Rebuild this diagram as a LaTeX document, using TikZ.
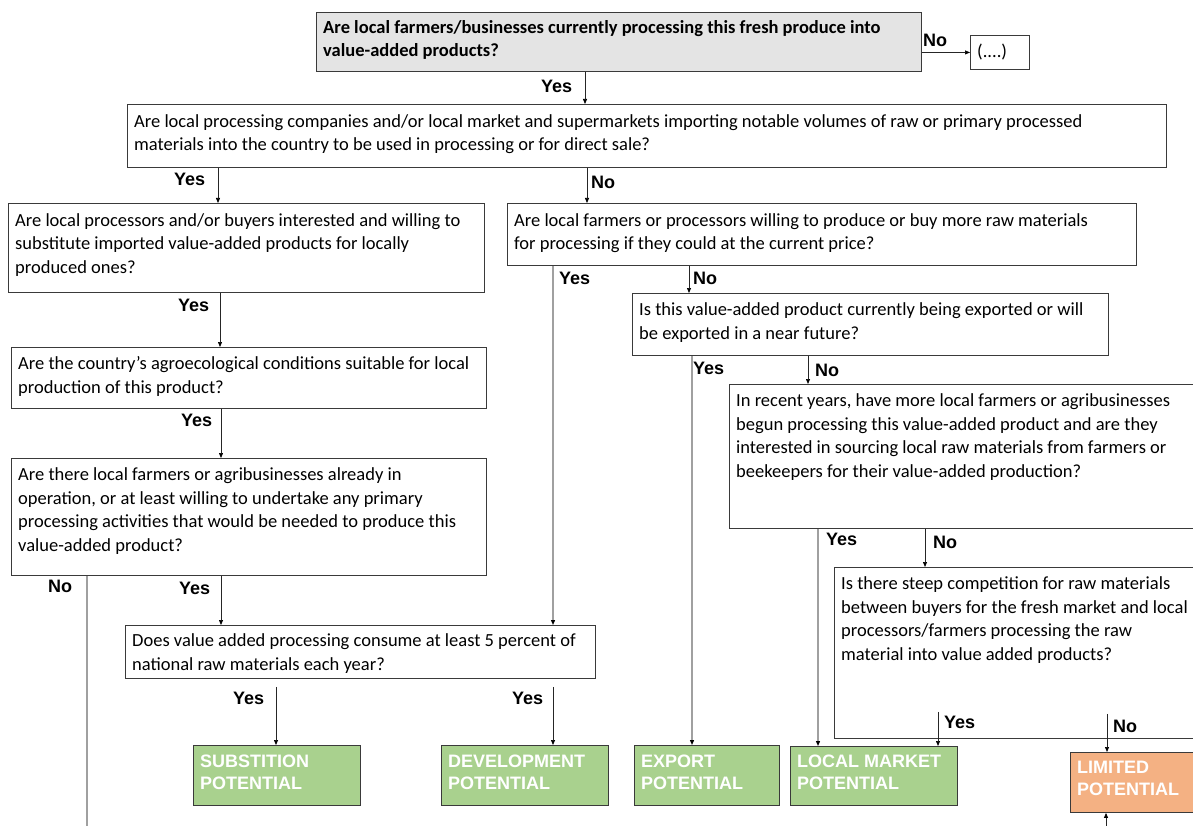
\documentclass[tikz,border=0pt]{standalone}
\usepackage{fontspec}
\setmainfont{Carlito}
\newfontfamily\lblfam{Liberation Sans}
\usetikzlibrary{arrows.meta,calc}

\definecolor{boxline}{HTML}{3A3A3A}
\definecolor{topfill}{HTML}{E4E4E4}
\definecolor{resgreen}{HTML}{A9D18E}
\definecolor{resorange}{HTML}{F4B183}
\definecolor{lightlink}{HTML}{A0A0A0}

\newcommand\qtxtfont{\fontsize{18.5pt}{23.6pt}\selectfont}
\newcommand\restxtfont{\lblfam\bfseries\fontsize{18pt}{22pt}\selectfont}
\newcommand\lbltxtfont{\lblfam\bfseries\fontsize{18pt}{20pt}\selectfont}

% #1 name, #2 x, #3 y (top left), #4 width, #5 height,
% #6 box style, #7 text style, #8 first-line strut height, #9 text
\newcommand\flowbox[9]{%
  \node[qbox,#6,minimum width=#4pt,minimum height=#5pt] (#1) at (#2,#3) {};
  \node[#7] (#1t) at (#2+7,#3+2) {\rule{0pt}{#8pt}#9};
}

\begin{document}
\begin{tikzpicture}[x=1pt,y=-1pt,
  qbox/.style={draw=boxline, line width=0.9pt, fill=white, inner sep=0pt, anchor=north west},
  qtext/.style={anchor=north west, inner sep=0pt, align=left, font=\qtxtfont, text=black},
  rtext/.style={anchor=north west, inner sep=0pt, align=left, font=\restxtfont, text=white},
  resbox/.style={fill=resgreen, draw=boxline},
  lbl/.style={anchor=base west, inner sep=0pt, font=\lbltxtfont},
  arr/.style={-{Triangle[length=5pt,width=4pt,color=black]}, line width=0.7pt, draw=black!85},
  garr/.style={arr, draw=lightlink, line width=1.3pt},
]
\useasboundingbox (0,0) rectangle (1193,826);
\clip (0,0) rectangle (1193,826);

% question boxes
\flowbox{qa}{316}{12}{605}{59}{fill=topfill}{qtext,font=\qtxtfont\bfseries}{19}%
  {Are local farmers/businesses currently processing this fresh produce into\\value-added products?}
\flowbox{dots}{970}{35}{59}{34}{}{qtext}{20.5}{(....)}
\flowbox{qb}{127}{104}{1039}{63}{}{qtext}{21}%
  {Are local processing companies and/or local market and supermarkets importing notable volumes of raw or primary processed\\materials into the country to be used in processing or for direct sale?}
\flowbox{qc}{8}{203}{476}{89}{}{qtext}{21}%
  {Are local processors and/or buyers interested and willing to\\substitute imported value-added products for locally\\produced ones?}
\flowbox{qd}{507}{203}{629}{62}{}{qtext}{21}%
  {Are local farmers or processors willing to produce or buy more raw materials\\for processing if they could at the current price?}
\flowbox{qe}{11}{347}{475}{61}{}{qtext}{20.5}%
  {Are the country’s agroecological conditions suitable for local\\production of this product?}
\flowbox{qf}{11}{458}{475}{117}{}{qtext}{20.5}%
  {Are there local farmers or agribusinesses already in\\operation, or at least willing to undertake any primary\\processing activities that would be needed to produce this\\value-added product?}
\flowbox{qg}{125}{625}{470}{53}{}{qtext}{19.5}%
  {Does value added processing consume at least 5 percent of\\national raw materials each year?}
\flowbox{qh}{632}{293}{476}{62}{}{qtext}{20.5}%
  {Is this value-added product currently being exported or will\\be exported in a near future?}
\flowbox{qi}{729}{384}{480}{144}{}{qtext}{20.5}%
  {In recent years, have more local farmers or agribusinesses\\begun processing this value-added product and are they\\interested in sourcing local raw materials from farmers or\\beekeepers for their value-added production?}
\flowbox{qj}{834}{567}{370}{171}{}{qtext}{20.5}%
  {Is there steep competition for raw materials\\between buyers for the fresh market and local\\processors/farmers processing the raw\\material into value added products?}

% outcome boxes
\flowbox{rsub}{193}{745}{167}{60}{resbox}{rtext}{20.5}{SUBSTITION\\POTENTIAL}
\flowbox{rdev}{441}{745}{167}{60}{resbox}{rtext}{20.5}{DEVELOPMENT\\POTENTIAL}
\flowbox{rexp}{634}{745}{145}{60}{resbox}{rtext}{20.5}{EXPORT\\POTENTIAL}
\flowbox{rloc}{790}{746}{167}{59}{resbox}{rtext}{19.5}{LOCAL MARKET\\POTENTIAL}
\flowbox{rlim}{1070}{752}{130}{60}{fill=resorange, draw=boxline}{rtext}{19.5}{LIMITED\\POTENTIAL}

% free ends of the links that leave the page
\coordinate (noexit) at (87,830);
\coordinate (limentry) at (1106,830);

% connectors
\draw[arr] (qa.east |- dots.west) -- (dots.west);
\draw[arr] (qa.south -| 585,0) -- (qb.north -| 585,0);
\draw[arr] (qb.south -| 218,0) -- (qc.north -| 218,0);
\draw[arr] (qb.south -| 587,0) -- (qd.north -| 587,0);
\draw[arr] (qc.south -| 220,0) -- (qe.north -| 220,0);
\draw[arr] (qe.south -| 221,0) -- (qf.north -| 221,0);
\draw[arr] (qf.south -| 221,0) -- (qg.north -| 221,0);
\draw[lightlink, line width=1.3pt] (qf.south -| noexit) -- (noexit);
\draw[garr] (qd.south -| 553,0) -- (qg.north -| 553,0);
\draw[arr] (qd.south -| 689,0) -- (qh.north -| 689,0);
\draw[arr] ($(qg.south -| 276,0)+(0,8)$) -- (rsub.north -| 276,0);
\draw[arr] ($(qg.south -| 553,0)+(0,8)$) -- (rdev.north -| 553,0);
\draw[garr] (qh.south -| 692,0) -- (rexp.north -| 692,0);
\draw[arr] (qh.south -| 808,0) -- (qi.north -| 808,0);
\draw[garr] (qi.south -| 818,0) -- (rloc.north -| 818,0);
\draw[arr] (qi.south -| 925,0) -- (qj.north -| 925,0);
\draw[arr] ($(qj.south -| 938,0)+(0,-27)$) -- (rloc.north -| 938,0);
\draw[arr] ($(qj.south -| 1107,0)+(0,-25)$) -- (rlim.north -| 1107,0);
\draw[arr] (limentry) -- (rlim.south -| limentry);

% branch labels
\node[lbl] (la1) at (923,46.5) {No};
\node[lbl] (la2) at (541,92.5) {Yes};
\node[lbl] (lb1) at (174,185.5) {Yes};
\node[lbl] (lb2) at (591,188.5) {No};
\node[lbl] (lc1) at (178,311.5) {Yes};
\node[lbl] (le1) at (181,426.5) {Yes};
\node[lbl] (lf1) at (48,592.5) {No};
\node[lbl] (lf2) at (179,594.5) {Yes};
\node[lbl] (ld1) at (559,284.5) {Yes};
\node[lbl] (ld2) at (693,284.5) {No};
\node[lbl] (lg1) at (233,704.5) {Yes};
\node[lbl] (lg2) at (512,704.5) {Yes};
\node[lbl] (lh1) at (693,374.5) {Yes};
\node[lbl] (lh2) at (815,376.5) {No};
\node[lbl] (li1) at (826,545.5) {Yes};
\node[lbl] (li2) at (933,548.5) {No};
\node[lbl] (lj1) at (944,728.5) {Yes};
\node[lbl] (lj2) at (1113,732.5) {No};
\end{tikzpicture}
\end{document}
